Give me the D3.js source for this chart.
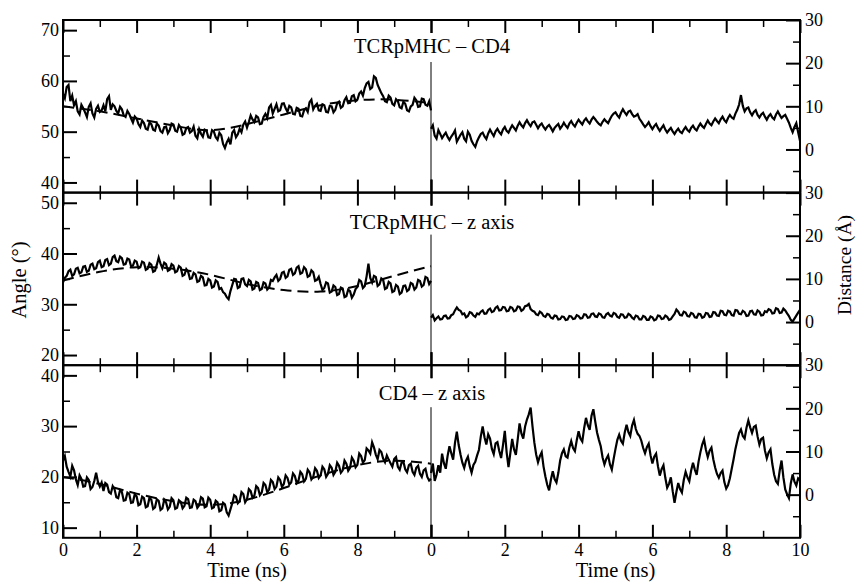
<!DOCTYPE html>
<html><head><meta charset="utf-8">
<script src="https://cdn.jsdelivr.net/npm/d3@7"></script>
<style>body{margin:0;background:#fff}svg{display:block}text{font-family:"Liberation Serif","Times New Roman","DejaVu Serif",serif;fill:#000}</style>
</head><body>
<svg id="c" width="858" height="583"></svg>
<script>
// ---- data (sampled every 0.05 ns) ----
const panelTitles = ["TCRpMHC \u2013 CD4", "TCRpMHC \u2013 z axis", "CD4 \u2013 z axis"];
const angleDomains = [[38,72],[18,52],[8,42]];
const angleTicks = [[40,50,60,70],[20,30,40,50],[10,20,30,40]];
const distTicks = [0,10,20,30];
const timeTicksLeft = [0,2,4,6,8,10];
const timeTicksRight = [0,2,4,6,8,10];
const fitTimes = [0,1,2,3,4,5,6,7,8,9,10];

const angle1 = [57.5,56.6,58.8,59.2,56.0,57.1,55.2,56.0,54.0,53.4,55.3,54.6,53.8,52.9,54.9,55.6,53.6,52.8,54.5,55.1,53.9,54.2,55.2,54.0,56.4,57.0,54.3,55.4,55.0,54.1,53.6,54.9,54.4,53.2,52.9,54.1,53.5,52.6,51.8,53.0,52.6,51.5,50.9,52.2,51.7,50.6,50.4,51.8,51.5,50.4,50.2,51.6,51.2,50.1,49.8,50.9,51.0,49.7,50.3,51.6,51.4,50.2,50.0,51.3,50.8,49.4,49.6,50.7,50.9,49.8,50.1,51.0,49.2,48.7,50.5,49.6,49.0,50.4,50.2,48.9,48.8,50.3,50.0,48.9,48.4,49.8,49.3,47.6,46.8,47.9,48.6,47.5,49.8,50.3,48.9,49.5,50.6,49.9,51.4,52.0,50.8,51.9,53.2,52.4,51.9,53.1,52.8,51.5,51.6,52.9,53.5,52.7,54.8,55.3,53.6,54.5,55.4,54.0,54.2,55.5,55.6,54.6,53.9,55.1,54.8,53.5,53.4,54.7,54.5,53.1,53.0,54.2,54.6,53.9,55.8,56.3,54.4,55.1,55.5,54.2,54.1,55.4,55.2,53.9,53.8,55.1,55.0,53.8,54.3,55.6,55.9,54.7,55.0,56.2,56.8,55.6,55.7,57.0,57.2,56.0,56.3,57.5,57.9,57.1,58.6,59.5,59.8,58.4,58.7,60.9,60.6,59.2,58.4,57.6,57.0,56.0,55.8,57.1,56.7,55.5,55.2,56.4,56.0,54.8,54.6,55.9,55.5,54.2,54.0,55.0,55.3,56.7,56.2,54.9,55.0,56.5,56.4,55.3,55.1,56.0,54.2];
const fit1 = [55.0,54.0,52.6,51.2,50.3,51.5,53.4,55.2,56.2,56.3,55.6];
const dist1 = [4.8,5.6,3.2,2.5,4.5,3.6,2.6,3.3,3.9,2.9,2.2,3.0,3.6,4.4,1.8,2.6,3.4,4.0,2.5,1.9,4.1,3.4,2.0,1.2,0.6,1.9,2.8,3.6,3.9,3.0,2.4,3.7,4.6,3.8,3.1,4.2,4.8,4.0,3.5,4.6,5.2,4.3,3.9,4.8,5.6,5.0,4.4,5.5,6.3,5.6,5.1,6.1,6.8,6.0,5.4,6.3,6.5,5.7,4.9,5.6,6.0,5.2,4.6,5.3,5.7,5.0,4.2,5.0,5.5,5.9,4.8,5.4,6.2,5.5,5.0,6.0,6.6,5.8,5.3,6.2,6.9,6.3,5.8,6.7,7.2,6.5,6.0,6.9,7.5,7.0,6.4,5.9,5.6,6.4,7.0,6.5,6.1,7.0,7.8,8.3,8.6,7.9,7.4,8.5,9.3,8.6,8.0,8.8,9.0,8.2,7.6,7.8,8.2,7.1,6.5,5.8,5.2,5.7,6.3,5.4,4.7,5.4,5.9,5.0,4.3,5.0,5.6,4.6,3.9,4.5,5.0,4.2,3.6,4.3,4.8,4.1,3.8,4.6,5.2,4.5,4.1,5.0,5.5,4.8,4.4,5.3,6.0,5.4,5.0,5.9,6.7,6.0,5.6,6.5,7.2,6.6,6.1,7.0,7.6,6.8,6.3,7.3,8.0,7.4,7.1,8.3,9.2,10.4,12.6,10.1,8.8,9.5,9.7,8.6,7.9,8.7,9.1,8.0,7.4,8.1,8.5,7.6,6.9,7.7,8.2,7.4,7.0,8.1,8.8,8.0,7.3,7.7,8.0,7.1,6.2,5.0,4.0,5.2,6.1,4.0,2.0];

const angle2 = [34.3,35.2,35.6,36.5,36.8,35.6,35.9,37.0,37.2,36.1,36.3,37.4,37.5,36.4,36.6,37.8,38.0,36.9,37.1,38.3,38.6,37.3,37.5,38.7,38.9,37.7,38.0,39.3,39.6,38.5,38.3,39.4,39.1,37.8,37.9,39.0,38.8,37.5,37.6,38.6,38.4,37.1,37.3,38.4,38.2,36.8,37.0,38.1,37.8,36.4,36.6,37.8,39.2,38.0,37.1,38.2,37.9,36.6,36.8,37.9,37.6,36.3,36.5,37.5,37.2,35.6,35.8,36.9,36.4,35.0,35.1,36.2,35.9,34.4,34.6,35.6,35.3,33.7,33.8,35.0,34.7,33.3,33.5,34.7,34.4,33.0,33.2,32.4,32.1,31.4,31.0,32.6,33.8,35.0,34.9,33.2,33.4,35.0,35.1,33.9,33.6,34.8,34.5,32.9,33.1,34.4,34.2,32.8,33.0,34.3,34.1,32.9,33.3,34.8,34.6,35.3,35.8,34.6,35.0,36.2,36.4,35.2,35.5,36.8,37.0,35.8,36.1,37.2,37.5,36.0,36.2,37.3,36.9,35.4,35.6,36.7,36.3,34.6,34.8,35.4,34.0,32.8,33.2,34.3,34.1,32.3,32.5,33.7,33.4,31.8,32.0,33.3,33.1,31.4,31.6,32.9,32.6,31.3,31.9,33.0,33.4,34.8,34.5,33.2,33.6,35.5,38.0,35.2,34.3,35.6,35.4,33.6,33.9,35.1,34.8,33.0,33.2,34.4,34.1,32.4,32.6,33.8,33.5,32.0,32.3,33.6,33.7,32.6,32.9,34.2,34.0,32.9,33.3,34.8,34.6,33.5,33.8,35.4,35.2,34.0,34.6];
const fit2 = [34.7,36.4,37.3,37.0,35.8,34.0,32.8,32.5,33.6,35.6,37.5];
const dist2 = [1.0,1.6,0.4,0.9,1.3,0.6,0.7,1.4,1.5,0.8,0.9,1.6,1.8,2.7,3.4,2.8,2.6,1.8,2.0,1.1,1.4,2.3,2.1,1.5,1.2,2.0,1.8,2.4,2.7,1.9,2.0,2.8,3.1,2.3,2.5,3.3,3.6,2.7,2.8,3.5,3.4,2.5,2.6,3.5,3.3,2.5,2.7,3.6,3.5,2.6,2.9,3.7,3.8,4.2,3.0,2.6,2.4,1.8,1.6,2.4,2.1,1.4,1.2,1.9,1.7,1.0,0.8,1.5,1.4,0.6,0.7,1.3,1.2,0.5,0.6,1.4,1.3,0.7,0.8,1.6,1.4,0.8,0.9,1.8,1.7,1.0,1.1,1.9,2.0,1.3,1.2,2.0,1.8,1.1,1.0,1.8,2.1,1.5,1.3,2.1,1.9,1.2,1.0,1.8,1.7,1.0,1.1,1.9,1.6,1.0,0.7,1.5,1.3,0.6,0.6,1.4,1.2,0.5,0.5,1.3,1.1,0.4,0.6,1.5,1.4,0.7,0.8,1.5,1.2,0.5,0.7,1.3,1.9,2.9,2.4,1.6,1.5,2.4,2.2,1.4,1.3,2.1,1.9,1.1,1.0,1.9,1.8,1.0,1.2,2.1,2.0,1.2,1.3,2.3,2.2,1.5,1.4,2.6,2.5,1.7,1.6,2.6,2.4,1.6,1.5,2.8,2.7,1.9,1.8,2.6,2.3,1.4,1.5,2.5,2.6,1.8,1.7,2.7,2.4,1.5,1.6,2.5,2.3,3.0,2.8,2.0,2.1,3.2,3.0,2.1,2.2,3.1,2.7,2.0,1.4,0.5,0.1,0.8,1.5,2.2,2.8];

const angle3 = [23.2,24.1,22.0,21.0,20.1,22.2,21.3,19.5,18.4,20.3,19.6,18.1,18.2,19.9,19.4,17.6,18.0,19.2,20.8,19.0,18.1,18.9,17.2,18.8,18.5,17.0,16.7,18.2,17.6,16.0,15.8,17.4,17.0,15.3,15.4,16.9,16.6,14.9,15.0,16.6,16.2,14.4,14.6,16.1,15.8,14.0,14.2,15.9,15.5,13.7,14.0,15.6,15.3,13.5,13.8,15.5,15.0,13.6,14.1,15.8,15.4,13.7,13.9,15.4,15.1,13.8,14.3,15.9,15.6,13.9,14.0,15.5,15.2,13.9,14.4,16.0,15.7,14.0,14.2,15.9,15.5,13.8,14.0,15.3,15.0,13.2,13.4,14.9,14.6,13.0,12.4,13.6,14.8,16.4,16.1,14.8,15.2,17.0,16.6,15.0,15.6,17.6,17.2,15.9,16.3,18.2,17.8,16.4,16.9,18.8,18.4,17.0,17.5,19.4,19.0,17.6,18.1,19.9,19.4,18.0,18.6,20.3,19.8,18.5,18.9,20.7,20.2,18.8,19.3,21.0,20.5,19.1,19.6,21.4,20.9,19.5,20.0,21.7,21.2,19.8,20.3,22.0,21.5,20.0,20.6,22.3,21.8,20.4,21.0,22.8,22.2,20.8,21.3,23.2,22.6,21.2,21.8,23.8,23.2,21.9,22.4,24.6,24.1,22.8,23.3,25.6,25.2,24.6,26.8,25.8,24.4,23.5,25.3,24.9,23.6,22.9,24.2,23.4,22.7,22.0,23.5,23.9,22.0,21.4,22.8,23.0,21.5,20.9,22.3,22.6,21.0,20.4,21.8,22.2,20.6,20.0,21.3,21.6,20.0,19.3,19.6];
const fit3 = [20.0,18.6,16.7,15.2,14.5,15.5,17.8,20.3,22.3,23.2,22.6];
const dist3 = [5.0,7.2,3.2,4.6,6.8,5.1,9.5,7.3,6.0,9.0,11.2,9.6,8.1,12.0,14.6,11.5,9.3,7.4,6.2,7.9,8.8,6.6,5.1,6.9,7.6,9.1,10.4,13.5,15.8,13.3,11.6,14.0,13.0,10.6,9.4,11.9,12.2,10.1,8.5,11.4,14.8,9.8,6.4,9.6,12.9,10.5,9.2,12.8,16.5,14.2,13.0,15.8,17.4,18.6,20.2,15.9,12.1,9.3,7.5,8.9,9.8,6.5,4.2,2.3,1.0,3.5,5.4,3.6,2.8,5.0,7.9,9.6,10.5,8.9,8.6,10.9,12.4,10.8,10.1,12.6,14.7,13.0,12.3,15.4,17.8,16.1,15.0,18.3,19.8,17.0,14.4,12.7,11.2,8.6,7.0,8.3,9.1,7.0,5.8,8.3,10.6,12.7,13.9,12.5,11.8,14.4,16.2,14.5,13.6,16.0,17.3,15.2,14.1,13.6,12.5,10.8,9.6,11.0,11.8,9.1,7.2,8.8,9.5,6.6,4.4,5.9,6.8,3.9,1.6,2.5,4.0,0.8,-1.9,0.6,2.7,1.3,0.5,3.4,5.3,4.0,3.1,5.6,7.4,5.8,4.6,7.6,9.8,11.6,12.8,10.4,8.7,10.2,10.9,8.2,6.3,4.8,3.9,5.0,5.6,2.9,1.4,2.2,3.8,6.0,8.2,10.6,12.5,14.3,15.1,13.6,13.0,15.5,17.2,15.6,14.3,15.7,16.0,13.5,11.6,12.9,13.2,10.2,8.4,9.8,10.5,7.1,4.6,3.1,2.5,5.6,7.9,4.0,1.2,0.1,-0.8,2.6,4.7,3.0,2.1,3.8,3.4];

const angleSeries = [angle1, angle2, angle3];
const distSeries = [dist1, dist2, dist3];
const fitSeries = [fit1, fit2, fit3];

// ---- layout ----
const svg = d3.select("#c");
const X0 = 63, XM = 431, X1 = 800;
const tops = [20, 192.6, 365.2], PH = 172.6;
const xL = d3.scaleLinear().domain([0,10]).range([X0, XM]);
const xR = d3.scaleLinear().domain([0,10]).range([XM, X1]);
const titleOffsets = [33, 36, 35];
const FONT = '"Liberation Serif","Times New Roman","DejaVu Serif",serif';

function axisStyle(g, w) {
  g.attr("font-family", FONT);
  g.select(".domain").remove();
  g.selectAll(".tick line").attr("stroke", "#000").attr("stroke-width", w);
  g.selectAll(".tick text").attr("font-size", 18).attr("font-family", FONT).attr("fill", "#000");
}
const tOf = (arr) => (d, i) => i * 10 / (arr.length - 1);

tops.forEach((top, p) => {
  const bot = top + PH;
  const yA = d3.scaleLinear().domain(angleDomains[p]).range([bot, top]);
  const yD = d3.scaleLinear().domain([-10, 30]).range([bot, top]);
  const g = svg.append("g");
  const aMinor = angleTicks[p].map(v => v + 5).concat([angleTicks[p][0] - 5]).filter(v => v > angleDomains[p][0] && v < angleDomains[p][1]);

  g.append("g").attr("transform", `translate(${X0},0)`)
    .call(d3.axisLeft(yA).tickValues(angleTicks[p]).tickSize(-14).tickPadding(4))
    .call(s => axisStyle(s, 2));
  g.append("g").attr("transform", `translate(${X0},0)`)
    .call(d3.axisLeft(yA).tickValues(aMinor).tickSize(-7).tickFormat(""))
    .call(s => axisStyle(s, 1.5));
  g.append("g").attr("transform", `translate(${X1},0)`)
    .call(d3.axisRight(yD).tickValues(distTicks).tickSize(-14).tickPadding(5))
    .call(s => axisStyle(s, 2));
  g.append("g").attr("transform", `translate(${X1},0)`)
    .call(d3.axisRight(yD).tickValues([-5,5,15,25]).tickSize(-7).tickFormat(""))
    .call(s => axisStyle(s, 1.5));

  [[xL, timeTicksLeft], [xR, timeTicksRight]].forEach(([xs, tv], h) => {
    const minor = [1,3,5,7,9];
    const showLabels = p === 2;
    const fmt = (d) => (h === 0 && d === 10) ? "" : d3.format("d")(d);
    g.append("g").attr("transform", `translate(0,${bot})`)
      .call(d3.axisBottom(xs).tickValues(tv).tickSize(-13).tickPadding(5).tickFormat(showLabels ? fmt : ""))
      .call(s => axisStyle(s, 2))
      .call(s => s.selectAll(".tick text").attr("dy", null).attr("y", 18));
    g.append("g").attr("transform", `translate(0,${bot})`)
      .call(d3.axisBottom(xs).tickValues(minor).tickSize(-7).tickFormat(""))
      .call(s => axisStyle(s, 1.5));
    g.append("g").attr("transform", `translate(0,${top})`)
      .call(d3.axisTop(xs).tickValues(tv).tickSize(-13).tickFormat(""))
      .call(s => axisStyle(s, 2));
    g.append("g").attr("transform", `translate(0,${top})`)
      .call(d3.axisTop(xs).tickValues(minor).tickSize(-7).tickFormat(""))
      .call(s => axisStyle(s, 1.5));
  });

  g.append("rect").attr("x", X0).attr("y", top).attr("width", X1 - X0).attr("height", PH)
    .attr("fill", "none").attr("stroke", "#000").attr("stroke-width", 2);

  g.append("line").attr("x1", XM).attr("x2", XM).attr("y1", top + 42).attr("y2", bot)
    .attr("stroke", "#000").attr("stroke-width", 1);

  g.append("text").attr("x", XM + 1).attr("y", top + titleOffsets[p]).attr("text-anchor", "middle")
    .attr("font-size", 20.5).text(panelTitles[p]);

  const aS = angleSeries[p], dS = distSeries[p];
  const la = d3.line().x((d, i) => xL(tOf(aS)(d, i))).y(d => yA(d));
  g.append("path").datum(aS).attr("d", la)
    .attr("fill", "none").attr("stroke", "#000").attr("stroke-width", 2.2).attr("stroke-linejoin", "miter");
  const ld = d3.line().x((d, i) => xR(tOf(dS)(d, i))).y(d => yD(d));
  g.append("path").datum(dS).attr("d", ld)
    .attr("fill", "none").attr("stroke", "#000").attr("stroke-width", 2.2).attr("stroke-linejoin", "miter");
  const lf = d3.line().curve(d3.curveNatural).x((d, i) => xL(fitTimes[i])).y(d => yA(d));
  g.append("path").datum(fitSeries[p]).attr("d", lf)
    .attr("fill", "none").attr("stroke", "#000").attr("stroke-width", 2).attr("stroke-dasharray", "11,6");
});

svg.append("text").attr("x", (X0 + XM) / 2).attr("y", 577).attr("text-anchor", "middle").attr("font-size", 20.5).text("Time (ns)");
svg.append("text").attr("x", (XM + X1) / 2).attr("y", 577).attr("text-anchor", "middle").attr("font-size", 20.5).text("Time (ns)");
svg.append("text").attr("transform", "translate(26,280) rotate(-90)").attr("text-anchor", "middle").attr("font-size", 20.5).text("Angle (\u00b0)");
svg.append("text").attr("transform", "translate(851,265) rotate(-90)").attr("text-anchor", "middle").attr("font-size", 19.5).text("Distance (\u00c5)");
</script>
</body></html>
